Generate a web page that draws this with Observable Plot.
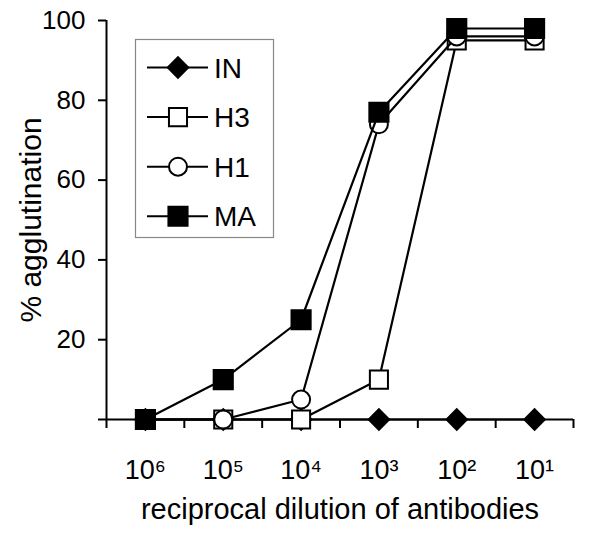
<!DOCTYPE html>
<html>
<head>
<meta charset="utf-8">
<script src="https://cdn.jsdelivr.net/npm/d3@7"></script>
<script src="https://cdn.jsdelivr.net/npm/@observablehq/plot@0.6"></script>
<style>
  html, body { margin: 0; padding: 0; background: #fff; }
  #chart { position: relative; width: 600px; height: 545px; }
</style>
</head>
<body>
<div id="chart"></div>
<script>
// Dilution categories (exponent of 10), left to right
const exponents = [6, 5, 4, 3, 2, 1];
// Series (% agglutination)
const seriesNames = ["IN", "H3", "H1", "MA"];
const IN = [0, 0, 0, 0, 0, 0];
const H3 = [0, 0, 0, 10, 95, 95];
const H1 = [0, 0, 5, 74, 96, 96];
const MA = [0, 10, 25, 77, 98, 98];
const yTicks = [0, 20, 40, 60, 80, 100];
const xLabel = "reciprocal dilution of antibodies";
const yLabel = "% agglutination";

const sup = {"0":"⁰","1":"¹","2":"²","3":"³","4":"⁴","5":"⁵","6":"⁶","7":"⁷","8":"⁸","9":"⁹"};
const catLabels = exponents.map(e => "10" + String(e).split("").map(c => sup[c]).join(""));

const seriesValues = {IN, H3, H1, MA};
const data = seriesNames.flatMap(s => seriesValues[s].map((v, i) => ({series: s, i: i + 0.5, v})));

const styleOf = {
  IN: {symbol: "diamond2", fill: "black", stroke: "black", r: 9.2},
  H3: {symbol: "square", fill: "white", stroke: "black", r: 10.2},
  H1: {symbol: "circle", fill: "white", stroke: "black", r: 9},
  MA: {symbol: "square", fill: "black", stroke: "black", r: 10.8}
};

const seriesMarks = seriesNames.flatMap(s => {
  const d = data.filter(e => e.series === s);
  const st = styleOf[s];
  return [
    Plot.line(d, {x: "i", y: "v", stroke: "black", strokeWidth: 2.2}),
    Plot.dot(d, {x: "i", y: "v", symbol: () => st.symbol, r: st.r, fill: st.fill, stroke: st.stroke, strokeWidth: 2})
  ];
});

const FONT = "'Liberation Sans', Arial, sans-serif";

const chart = Plot.plot({
  width: 600,
  height: 545,
  marginLeft: 106,
  marginRight: 27,
  marginTop: 20,
  marginBottom: 126,
  style: {fontFamily: FONT, fontSize: "26px", color: "black", background: "white"},
  x: {domain: [0, exponents.length], axis: null},
  y: {domain: [0, 100], axis: null},
  symbol: {type: "identity"},
  marks: [
    // tick marks only
    Plot.axisY(yTicks, {anchor: "left", tickSize: 8, tickFormat: () => "", strokeWidth: 2, label: null}),
    Plot.axisX(d3.range(exponents.length + 1), {anchor: "bottom", tickSize: 9, tickFormat: () => "", strokeWidth: 2, label: null}),
    // tick labels
    Plot.text(yTicks.filter(d => d !== 0), {y: d => d, text: d => String(d), frameAnchor: "left", textAnchor: "end", lineAnchor: "middle", dx: -21, fontSize: 26, fill: "black"}),
    Plot.text(exponents, {x: (d, i) => i + 0.5, text: (d, i) => catLabels[i], frameAnchor: "bottom", textAnchor: "middle", lineAnchor: "middle", dy: 51, fontSize: 27, fill: "black"}),
    Plot.ruleX([0], {stroke: "black", strokeWidth: 2}),
    Plot.ruleY([0], {stroke: "black", strokeWidth: 2}),
    ...seriesMarks,
    Plot.text([xLabel], {text: d => d, frameAnchor: "bottom", textAnchor: "middle", lineAnchor: "middle", dy: 90, fontSize: 29, fill: "black"}),
    Plot.text([yLabel], {text: d => d, frameAnchor: "left", textAnchor: "middle", lineAnchor: "middle", dx: -75, rotate: -90, fontSize: 30, fill: "black"})
  ]
});

document.getElementById("chart").appendChild(chart);

// Legend (inside plot area, top-left)
const svg = d3.select(chart);
const lg = svg.append("g").attr("class", "legend");
const box = {x: 135.5, y: 39.5, w: 138, h: 198};
lg.append("rect").attr("x", box.x).attr("y", box.y).attr("width", box.w).attr("height", box.h)
  .attr("fill", "white").attr("stroke", "#888").attr("stroke-width", 1.2);
const symbolTypes = {diamond2: d3.symbolDiamond2, square: d3.symbolSquare, circle: d3.symbolCircle};
seriesNames.forEach((s, k) => {
  const cy = 67.5 + k * 49.6;
  const st = styleOf[s];
  lg.append("line").attr("x1", 147).attr("x2", 208).attr("y1", cy).attr("y2", cy)
    .attr("stroke", "black").attr("stroke-width", 2);
  lg.append("path").attr("transform", `translate(178,${cy})`)
    .attr("d", d3.symbol(symbolTypes[st.symbol], Math.PI * st.r * st.r)())
    .attr("fill", st.fill).attr("stroke", st.stroke).attr("stroke-width", 2);
  lg.append("text").attr("x", 214).attr("y", cy).attr("dy", "0.36em")
    .attr("text-anchor", "start")
    .attr("font-size", 28).attr("font-family", FONT)
    .attr("fill", "black").text(s);
});
</script>
</body>
</html>
